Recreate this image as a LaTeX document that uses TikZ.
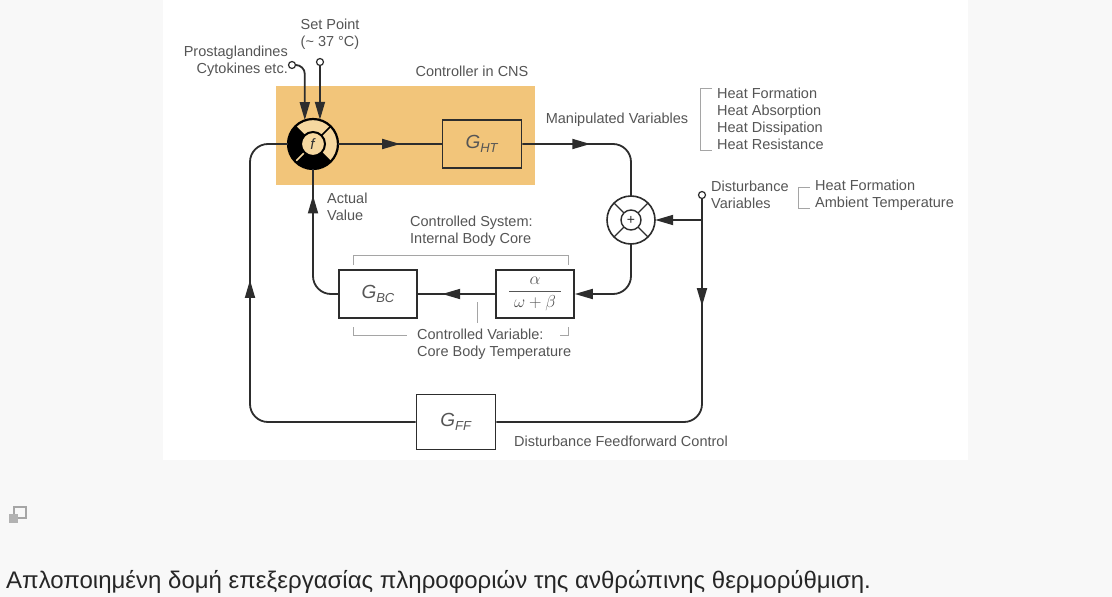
\documentclass[tikz,border=0pt]{standalone}
\usepackage{fontspec}
\setmainfont{Liberation Sans}
\usetikzlibrary{arrows.meta, positioning, calc, decorations.markings}

\definecolor{cnsorange}{RGB}{242,197,122}
\definecolor{ringlight}{RGB}{246,216,160}
\definecolor{linegray}{RGB}{45,45,45}
\definecolor{textgray}{RGB}{85,85,85}
\definecolor{bracketgray}{RGB}{165,165,165}
\definecolor{pagegray}{RGB}{248,248,248}

\newcommand{\gname}[1]{\textit{G}\raisebox{-4pt}{\fontsize{13}{13}\selectfont\textit{#1}}}

\begin{document}
\begin{tikzpicture}[
            x=1pt, y=-1pt,
            % --- styles ---
            block/.style={rectangle, draw=linegray, line width=1.6pt, minimum width=79pt,
                          minimum height=48pt, inner sep=0pt, text=textgray, font=\fontsize{19}{19}\selectfont},
            junction/.style={circle, inner sep=0pt},
            port/.style={circle, draw=linegray, fill=white, line width=1.2pt, minimum size=7pt, inner sep=0pt},
            txt/.style={font=\fontsize{14.5}{17}\selectfont, text=textgray, inner sep=0pt},
            line/.style={draw=linegray, line width=1.8pt, rounded corners=18pt},
            endarrow/.style={-{Triangle[length=18pt,width=10pt]}},
            midarrow/.style={postaction={decorate}, decoration={markings,
                             mark=at position #1 with {\arrow{Triangle[length=18pt,width=10pt]}}}},
            bracket/.style={draw=bracketgray, line width=1pt}
        ]

        % --- page ---
        \fill[pagegray] (0,0) rectangle (1112,597);
        \fill[white] (163,0) rectangle (968,460);
        \useasboundingbox (0,0) rectangle (1112,597);

        % --- controller in CNS ---
        \node[fill=cnsorange, minimum width=259pt, minimum height=99pt, inner sep=0pt] (cns) at (405.5,135.5) {};
        \node[txt] (cnstxt) at (472,71) {Controller in CNS};

        % --- nodes ---
        \node[junction, minimum size=50pt] (cmp) at (313,144) {};
        \node[block] (ght) at (482,144) {\gname{HT}};
        \node[junction, minimum size=48pt] (sum) at (631,220) {};
        \node[block, minimum width=78pt] (sys) at (535,294)
            {\fontsize{17}{17}\selectfont$\displaystyle\frac{\alpha}{\hspace{5pt}\omega+\beta\hspace{5pt}}$};
        \node[block, minimum width=78pt] (gbc) at (378,294) {\gname{BC}};
        \node[block, minimum height=55pt] (gff) at (456,422) {\gname{FF}};

        \node[port] (pg) at (292,65) {};
        \node[port] (sp) at (320,62) {};
        \node[port] (dist) at (702,195) {};
        \coordinate (dj) at (dist.south |- sum.east);
        \coordinate (loopleft) at (250,422);

        % --- comparator ---
        \fill[ringlight] (cmp) circle[radius=25pt];
        \fill[black] ($(cmp)+(135:25pt)$) arc[start angle=135, end angle=315, radius=25pt]
            -- ($(cmp)+(315:12pt)$) arc[start angle=315, end angle=135, radius=12pt] -- cycle;
        \foreach \a in {45,135,315}
            \draw[black, line width=1.5pt] ($(cmp)+(\a:12pt)$) -- ($(cmp)+(\a:25pt)$);
        \draw[ringlight, line width=1.5pt] ($(cmp)+(225:12pt)$) -- ($(cmp)+(225:25pt)$);
        \draw[black, line width=2pt, fill=ringlight] (cmp) circle[radius=12pt];
        \draw[black, line width=2.2pt] (cmp) circle[radius=25pt];
        \node[text=black!80] at (cmp) {\fontsize{15}{15}\selectfont\textit{f}};

        % --- summing point ---
        \draw[linegray, line width=1.6pt, fill=white] (sum) circle[radius=24pt];
        \draw[linegray, line width=1.4pt] (sum) circle[radius=10pt];
        \foreach \a in {45,135,225,315}
            \draw[linegray, line width=1.4pt] ($(sum)+(\a:10pt)$) -- ($(sum)+(\a:24pt)$);
        \node[text=linegray] at (sum) {\fontsize{14}{14}\selectfont +};

        % --- connectors ---
        \draw[line, midarrow=62pt] (cmp.east) -- (ght.west);
        \draw[line, midarrow=68pt] (ght.east) -- (sum.north |- ght.east) -- (sum.north);
        \draw[line, midarrow=107pt] (dist.south) -- (dist.south |- gff.east) -- (gff.east);
        \draw[line, endarrow] (dj) -- (sum.east);
        \draw[line, endarrow] (sum.south) -- (sum.south |- sys.east) -- (sys.east);
        \draw[line, midarrow=53pt] (sys.west) -- (gbc.east);
        \draw[line, midarrow=116pt] (gbc.west) -- (cmp.south |- gbc.west) -- (cmp.south);
        \draw[line, midarrow=300pt] (gff.west) -- (loopleft) -- (loopleft |- cmp.west) -- (cmp.west);
        \draw[line, rounded corners=9pt, endarrow] (pg.east) -- (pg.east -| cmp.109) -- (cmp.109);
        \draw[line, endarrow] (sp.south) -- (cmp.74);

        % --- brackets ---
        \draw[bracket] (712,88) -- (700,88) -- (700,150) -- (712,150);
        \draw[bracket] (810,187) -- (798,187) -- (798,208) -- (810,208);
        \draw[bracket] (353,265) -- (353,255) -- (568,255) -- (568,265);
        \draw[bracket] (353,327) -- (353,335) -- (407,335);
        \draw[bracket] (560,335) -- (568,335) -- (568,327);
        \draw[bracket] (477,302) -- (477,323);

        % --- labels ---
        \node[txt, align=center] (setpt) at (330,34) {Set Point\\(\textasciitilde\ 37 °C)};
        \node[txt, align=right, anchor=east] (pgtxt) at (288,61) {Prostaglandines\\Cytokines etc.};
        \node[txt] (mvtxt) at (617,120) {Manipulated Variables};
        \node[txt, align=left, anchor=west] (heatlist) at (717,119)
            {Heat Formation\\Heat Absorption\\Heat Dissipation\\Heat Resistance};
        \node[txt, align=left, anchor=west] (dvtxt) at (711,195) {Disturbance\\Variables};
        \node[txt, align=left, anchor=west] (dvlist) at (815,195) {Heat Formation\\Ambient Temperature};
        \node[txt, align=left, anchor=west] (avtxt) at (327,207) {Actual\\Value};
        \node[txt, align=left, anchor=west] (cstxt) at (410,231) {Controlled System:\\Internal Body Core};
        \node[txt, align=left, anchor=west] (cvtxt) at (417,344) {Controlled Variable:\\Core Body Temperature};
        \node[txt, anchor=west] (fftxt) at (514,441) {Disturbance Feedforward Control};

        % --- caption ---
        \draw[gray!70, line width=1.2pt] (14,507) rectangle (26,518);
        \fill[gray!60] (9,514) rectangle (18,523);
        \node[anchor=west, inner sep=0pt, text=black!85, font=\fontsize{24}{24}\selectfont] (caption) at (6,582)
            {Απλοποιημένη δομή επεξεργασίας πληροφοριών της ανθρώπινης θερμορύθμιση.};

        \end{tikzpicture}
\end{document}
